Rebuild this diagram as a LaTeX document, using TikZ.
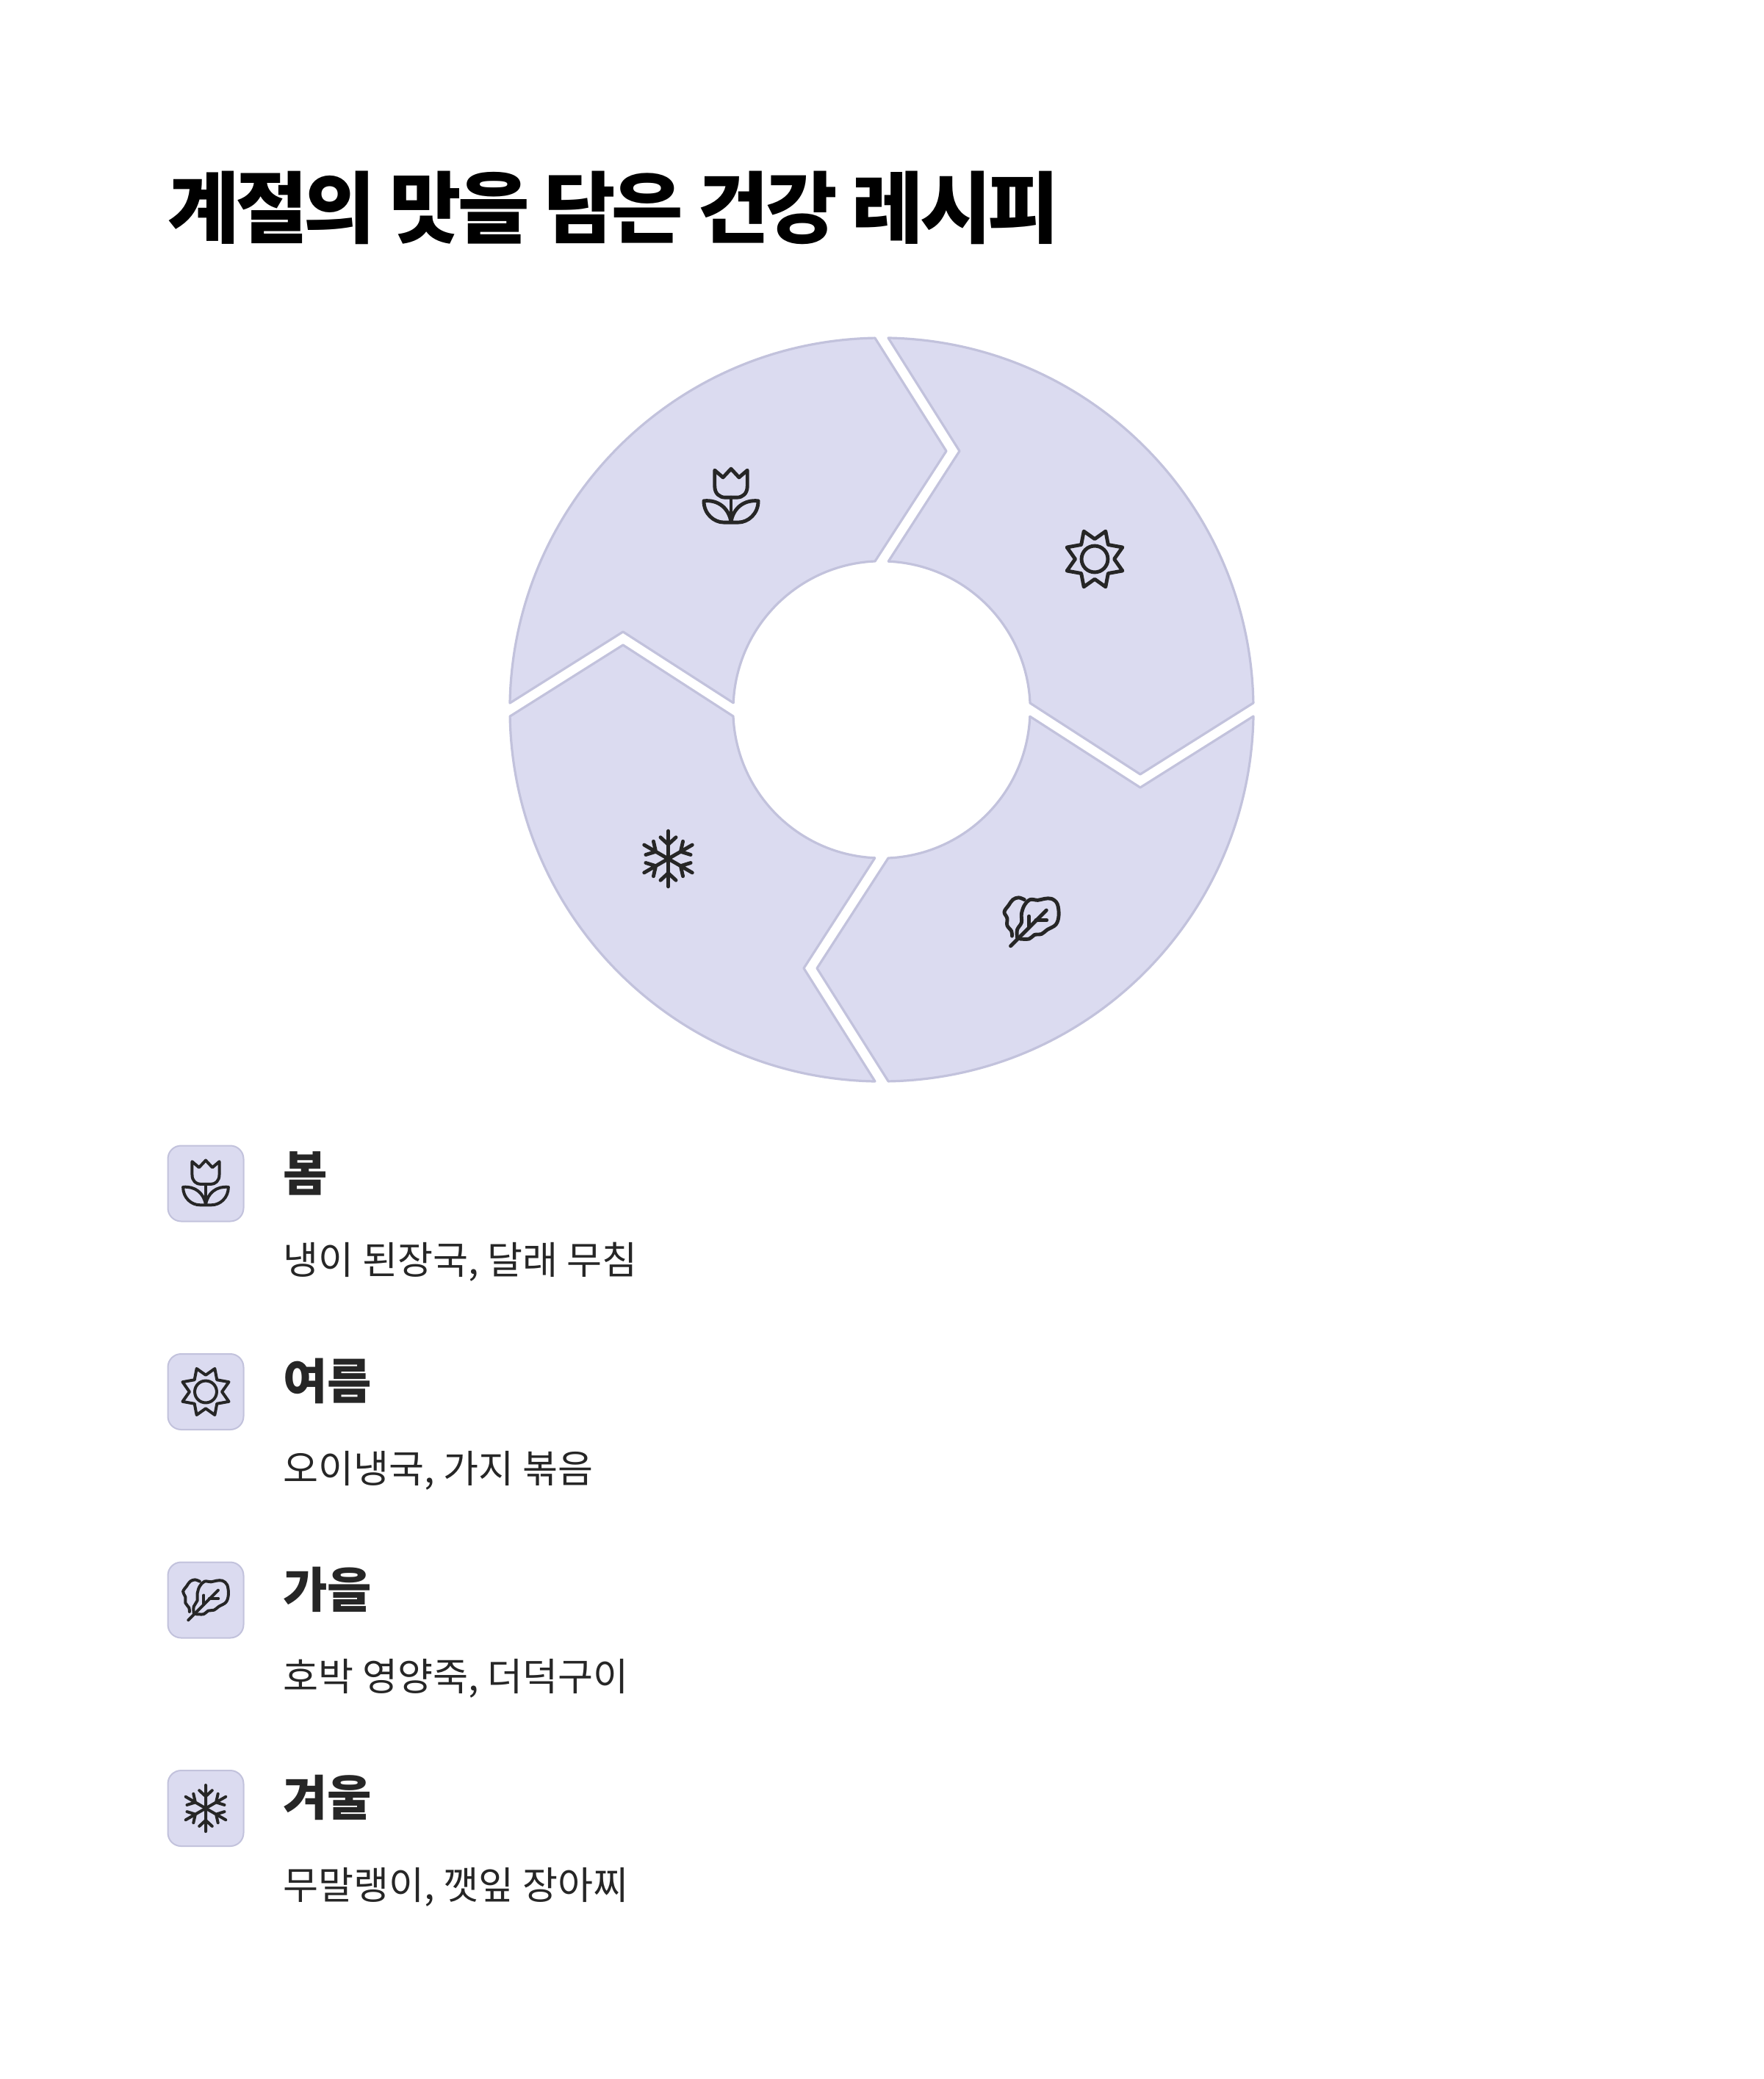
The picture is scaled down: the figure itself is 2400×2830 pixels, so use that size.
\documentclass[tikz,border=0pt]{standalone}
\usepackage{fontspec}
\usepackage{xcolor}
\usepackage{tikz}
\setmainfont{Noto Sans CJK KR}
\newfontfamily\titlefont[LetterSpace=-4.6]{Noto Sans CJK KR}
\definecolor{petalfill}{HTML}{DBDBF0}
\definecolor{petalline}{HTML}{C2C2DC}
\definecolor{inkline}{HTML}{262626}
\tikzstyle{petal} = [draw=petalline, fill=petalfill, line width=1.6pt, line join=round]
\tikzstyle{iconbox} = [rectangle, rounded corners=9pt, minimum width=51.5pt, minimum height=51.5pt, inner sep=0pt, draw=petalline, fill=petalfill, line width=1pt]
\tikzstyle{rowhead} = [anchor=base west, inner sep=0pt, text=inkline, font=\bfseries\fontsize{32.8pt}{36pt}\selectfont]
\tikzstyle{rowtext} = [anchor=base west, inner sep=0pt, text=inkline, font=\fontsize{26.1pt}{30pt}\selectfont]
\tikzstyle{iconsmall} = [scale=0.325, line width=2pt, color=inkline, line join=round, line cap=round]
\tikzstyle{iconlarge} = [scale=0.39, line width=2.45pt, color=inkline, line join=round, line cap=round]
\def\petalpath{(-506,-9) arc[start angle=181.02, end angle=268.98, radius=506] -- (88,-352) -- (-9,-202) arc[start angle=267.45, end angle=182.55, radius=202] -- (-352,-106) -- cycle}
\tikzset{
tulip/.pic={
	\draw (-57,-92) -- (-28,-67) -- (0,-97) -- (28,-67) -- (57,-92) -- (57,-37) .. controls (57,-10) and (40,3) .. (20,3) -- (-20,3) .. controls (-40,3) and (-57,-10) .. (-57,-37) -- cycle;
	\draw (0,3) -- (0,88);
	\draw (0,88) .. controls (-8,40) and (-45,10) .. (-95,15) .. controls (-95,60) and (-60,90) .. (-25,90) -- (25,90) .. controls (60,90) and (95,60) .. (95,15) .. controls (45,10) and (8,40) .. (0,88);
},
sunburst/.pic={
	\draw (0,0) circle (46);
	\draw (-38,-97) -- (0,-70) -- (38,-97) -- (47,-50) -- (97,-41) -- (68,0) -- (97,41) -- (47,50) -- (38,97) -- (0,70) -- (-38,97) -- (-47,50) -- (-97,41) -- (-68,0) -- (-97,-41) -- (-47,-50) -- cycle;
},
spinach/.pic={
	\draw (-73,84) -- (52,-41);
	\draw (-8,-20) -- (-8,19);
	\draw (53,-6) -- (15,-6);
	\draw plot[smooth, tension=0.6] coordinates {(-40,59) (-8,59) (10,45) (35,42) (55,27) (85,9) (95,-23) (90,-63) (70,-81) (45,-81) (22,-76) (-5,-78) (-25,-58) (-35,-28) (-35,2) (-50,27) (-50,55)};
	\draw plot[smooth, tension=0.6] coordinates {(-25,-78) (-45,-85) (-65,-78) (-80,-58) (-95,-35) (-85,-13) (-85,12) (-70,32) (-68,49)};
},
flake/.pic={
	\draw [rotate=0] (0,0) -- (0,-97) (-27,-75) -- (0,-50) -- (27,-75);
	\draw [rotate=60] (0,0) -- (0,-97) (-27,-75) -- (0,-50) -- (27,-75);
	\draw [rotate=120] (0,0) -- (0,-97) (-27,-75) -- (0,-50) -- (27,-75);
	\draw [rotate=180] (0,0) -- (0,-97) (-27,-75) -- (0,-50) -- (27,-75);
	\draw [rotate=240] (0,0) -- (0,-97) (-27,-75) -- (0,-50) -- (27,-75);
	\draw [rotate=300] (0,0) -- (0,-97) (-27,-75) -- (0,-50) -- (27,-75);
}
}
\begin{document}
\begin{tikzpicture}[x=0.5pt,y=-0.5pt,node distance=141.75pt]
	\useasboundingbox (0,0) rectangle (2400,2830);

	\node (title) [anchor=base west, inner sep=0pt, font=\titlefont\bfseries\fontsize{53pt}{60pt}\selectfont] at (228,323) {계절의 맛을 담은 건강 레시피};

	% ring
	\coordinate (ring) at (1200,966);
	\draw [petal,shift={(ring)},rotate=0] \petalpath;
	\draw [petal,shift={(ring)},rotate=-90] \petalpath;
	\draw [petal,shift={(ring)},rotate=-180] \petalpath;
	\draw [petal,shift={(ring)},rotate=-270] \petalpath;

	\pic [iconlarge] at (995,676) {tulip};
	\pic [iconlarge] at (1490,761) {sunburst};
	\pic [iconlarge] at (1404,1255) {spinach};
	\pic [iconlarge] at (909.5,1169) {flake};

	% rows
	\node (springbox) [iconbox] at (280,1611) {};
	\node (summerbox) [iconbox,below of=springbox] {};
	\node (autumnbox) [iconbox,below of=summerbox] {};
	\node (winterbox) [iconbox,below of=autumnbox] {};

	\pic [iconsmall] at (springbox) {tulip};
	\pic [iconsmall] at (summerbox) {sunburst};
	\pic [iconsmall] at (autumnbox) {spinach};
	\pic [iconsmall] at (winterbox) {flake};

	\node (springhead) [rowhead] at (385,1621) {봄};
	\node (summerhead) [rowhead] at (385,1904.5) {여름};
	\node (autumnhead) [rowhead] at (385,2188) {가을};
	\node (winterhead) [rowhead] at (385,2471.5) {겨울};

	\node (springtext) [rowtext] at (385,1734.5) {냉이 된장국, 달래 무침};
	\node (summertext) [rowtext] at (385,2018) {오이냉국, 가지 볶음};
	\node (autumntext) [rowtext] at (385,2301.5) {호박 영양죽, 더덕구이};
	\node (wintertext) [rowtext] at (385,2585) {무말랭이, 깻잎 장아찌};

\end{tikzpicture}
\end{document}
